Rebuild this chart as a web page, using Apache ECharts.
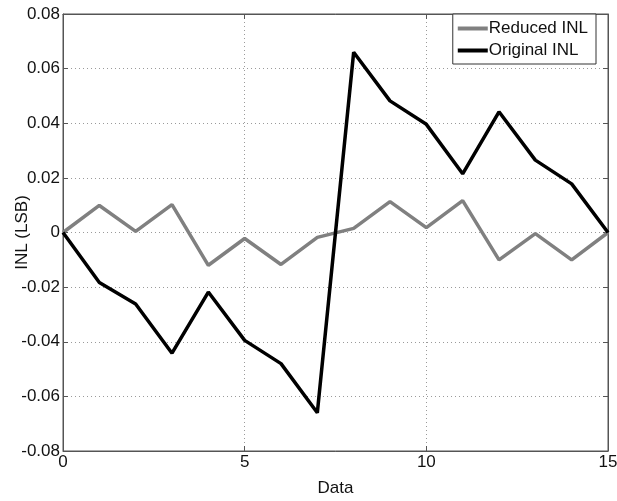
<!DOCTYPE html>
<html>
<head>
<meta charset="utf-8">
<script src="https://cdn.jsdelivr.net/npm/echarts@6/dist/echarts.min.js"></script>
<style>html,body{margin:0;padding:0;background:#fff;}#c{width:617px;height:501px;}</style>
</head>
<body>
<div id="c"></div>
<script>
const xValues = [0,1,2,3,4,5,6,7,8,9,10,11,12,13,14,15];
const reducedINL = [0, 0.0099, 0.0004, 0.0102, -0.0120, -0.0022, -0.0117, -0.0018, 0.0015, 0.0113, 0.0018, 0.0117, -0.0100, -0.0004, -0.0100, 0];
const originalINL = [0, -0.0183, -0.0262, -0.0442, -0.0218, -0.0395, -0.0480, -0.0660, 0.0660, 0.0482, 0.0396, 0.0215, 0.0442, 0.0265, 0.0178, 0];
const seriesNames = ['Reduced INL', 'Original INL'];
const xTitle = 'Data';
const yTitle = 'INL (LSB)';

const font = 'Liberation Sans, Arial, sans-serif';
const chart = echarts.init(document.getElementById('c'), null, {renderer: 'canvas'});
const axisColor = '#555';
const txt = '#111';
const pair = (xs, ys) => xs.map((x, i) => [x, ys[i]]);

chart.setOption({
  animation: false,
  backgroundColor: '#fff',
  grid: {left: 63, right: 9, top: 14, bottom: 50, containLabel: false, outerBoundsMode: 'none',
    show: true, borderColor: axisColor, borderWidth: 1},
  legend: {
    orient: 'vertical', right: 21, top: 14,
    data: seriesNames.map(n => ({name: n, icon: 'rect'})),
    itemWidth: 30, itemHeight: 4, itemGap: 5,
    backgroundColor: '#fff', borderColor: '#333', borderWidth: 1,
    padding: [6, 8, 5, 5],
    textStyle: {fontFamily: font, fontSize: 17, color: txt, padding: [0, 0, 0, -4]}
  },
  xAxis: [{
    type: 'value', min: 0, max: 15, interval: 5,
    name: xTitle, nameLocation: 'middle', nameGap: 29, nameMoveOverlap: false,
    nameTextStyle: {fontFamily: font, fontSize: 17, color: txt},
    axisLine: {show: true, onZero: false, lineStyle: {color: axisColor}},
    axisTick: {show: true, inside: true, length: 5, lineStyle: {color: axisColor}},
    axisLabel: {fontFamily: font, fontSize: 17, color: txt, margin: 3},
    splitLine: {show: true, lineStyle: {color: '#9a9a9a', type: [1, 3], width: 1}}
  }, {
    type: 'value', min: 0, max: 15, interval: 5, position: 'top',
    axisLine: {show: true, onZero: false, lineStyle: {color: axisColor}},
    axisTick: {show: true, inside: true, length: 5, lineStyle: {color: axisColor}},
    axisLabel: {show: false}, splitLine: {show: false}
  }],
  yAxis: [{
    type: 'value', min: -0.08, max: 0.08, interval: 0.02,
    name: yTitle, nameLocation: 'middle', nameGap: 32, nameMoveOverlap: false,
    nameTextStyle: {fontFamily: font, fontSize: 17, color: txt},
    axisLine: {show: true, onZero: false, lineStyle: {color: axisColor}},
    axisTick: {show: true, inside: true, length: 5, lineStyle: {color: axisColor}},
    axisLabel: {fontFamily: font, fontSize: 17, color: txt, margin: 3,
      formatter: v => (Math.abs(v) < 1e-9 ? '0' : v.toFixed(2))},
    splitLine: {show: true, lineStyle: {color: '#9a9a9a', type: [1, 3], width: 1}}
  }, {
    type: 'value', min: -0.08, max: 0.08, interval: 0.02, position: 'right',
    axisLine: {show: true, onZero: false, lineStyle: {color: axisColor}},
    axisTick: {show: true, inside: true, length: 5, lineStyle: {color: axisColor}},
    axisLabel: {show: false}, splitLine: {show: false}
  }],
  series: [{
    name: seriesNames[0], type: 'line', data: pair(xValues, reducedINL),
    showSymbol: false, symbol: 'none', color: '#808080',
    lineStyle: {color: '#808080', width: 3.5}
  }, {
    name: seriesNames[1], type: 'line', data: pair(xValues, originalINL),
    showSymbol: false, symbol: 'none', color: '#000',
    lineStyle: {color: '#000', width: 3.5}
  }]
});
</script>
</body>
</html>
